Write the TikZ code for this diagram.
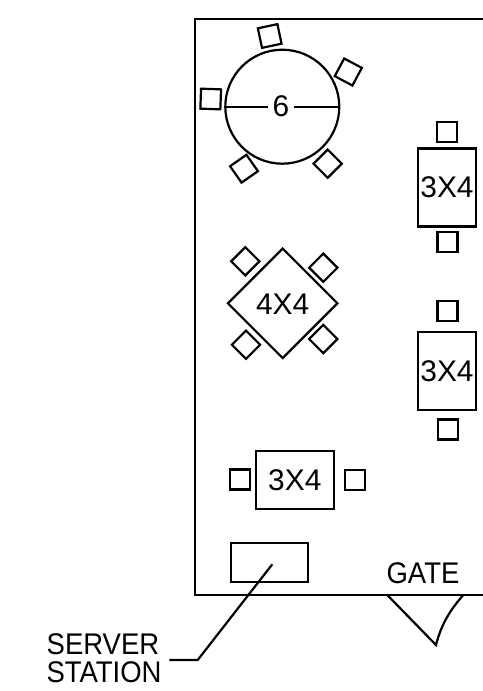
\documentclass[tikz,border=0pt]{standalone}
\usepackage{fontspec}
\setmainfont{Liberation Sans}
\newfontfamily\narrowfont[FakeStretch=0.92]{Liberation Sans}
\usetikzlibrary{calc}
\usetikzlibrary{positioning}
\tikzset{
  chair/.style={draw,line width=1.25pt,minimum size=0.4cm,inner sep=0pt},
  tablebox/.style={draw,line width=1.25pt,inner sep=0pt,font=\fontsize{17}{17}\selectfont},
  tablelabel/.style={inner sep=0pt,font=\fontsize{17}{17}\selectfont},
  plainlabel/.style={inner sep=0pt,font=\narrowfont\fontsize{17}{17}\selectfont},
}
\begin{document}
\begin{tikzpicture}[x=0.02cm,y=-0.02cm,line width=1.25pt]
      \useasboundingbox (0,0) rectangle (483,691);
      % room
      \draw (483,19) -- (195,19) -- (195,595) -- (483,595);
      % round table
      \node[circle,draw,line width=1.25pt,minimum size=2.28cm,inner sep=0pt] (roundtable) at (282.3,106.7) {};
      \node[tablelabel,minimum width=0.46cm] (six) at (281,106.7) {6};
      \draw (roundtable.west) -- (six.west);
      \draw (six.east) -- (roundtable.east);
      \node[chair,rotate=12] (chairA) at (269.7,36) {};
      \node[chair,rotate=-28] (chairB) at (348.3,72) {};
      \node[chair,rotate=-2] (chairC) at (210.7,99) {};
      \node[chair,rotate=35] (chairD) at (244,168.7) {};
      \node[chair,rotate=45] (chairE) at (327.7,163.7) {};
      % right tables
      \node[tablebox,minimum width=1.16cm,minimum height=1.56cm] (tableA) at (447,187.5) {3X4};
      \node[chair] (chairF) at (447,132) {};
      \node[chair] (chairG) at (447.5,242) {};
      \node[tablebox,minimum width=1.16cm,minimum height=1.56cm] (tableB) at (447,371) {3X4};
      \node[chair] (chairH) at (447.5,311) {};
      \node[chair] (chairI) at (448,429.5) {};
      % diamond table
      \node[draw,line width=1.25pt,minimum size=1.55cm,inner sep=0pt,rotate=45] (tableC) at (282.7,303.3) {};
      \node[tablelabel] (tableClabel) at (282.7,304) {4X4};
      \node[chair,rotate=45] (chairJ) at (245.3,261.3) {};
      \node[chair,rotate=45] (chairK) at (323.3,267.7) {};
      \node[chair,rotate=45] (chairL) at (246,344.7) {};
      \node[chair,rotate=45] (chairM) at (323.3,339) {};
      % bottom table
      \node[tablebox,minimum width=1.56cm,minimum height=1.16cm] (tableD) at (294.8,480) {3X4};
      \node[chair] (chairN) at (239.7,479.5) {};
      \node[chair] (chairO) at (355.3,480) {};
      % server station
      \node[draw,line width=1.25pt,minimum width=1.54cm,minimum height=0.78cm,inner sep=0pt] (station) at (269.5,562.7) {};
      \node[plainlabel] (server) at (103,644) {SERVER};
      \node[plainlabel] (stationlabel) at (104,672.7) {STATION};
      \coordinate (leadA) at (272.3,564.3);
      \coordinate (leadB) at (197.7,660);
      \coordinate (leadC) at (169.3,660);
      \draw (leadA) -- (leadB) -- (leadC);
      % gate
      \node[plainlabel] (gate) at (423,573) {GATE};
      \coordinate (gateA) at (387.3,595);
      \coordinate (gateB) at (436,645);
      \coordinate (gateC) at (463.3,595);
      \draw (gateA) -- (gateB) .. controls (441,625) and (450,610) .. (gateC);
    \end{tikzpicture}
\end{document}
